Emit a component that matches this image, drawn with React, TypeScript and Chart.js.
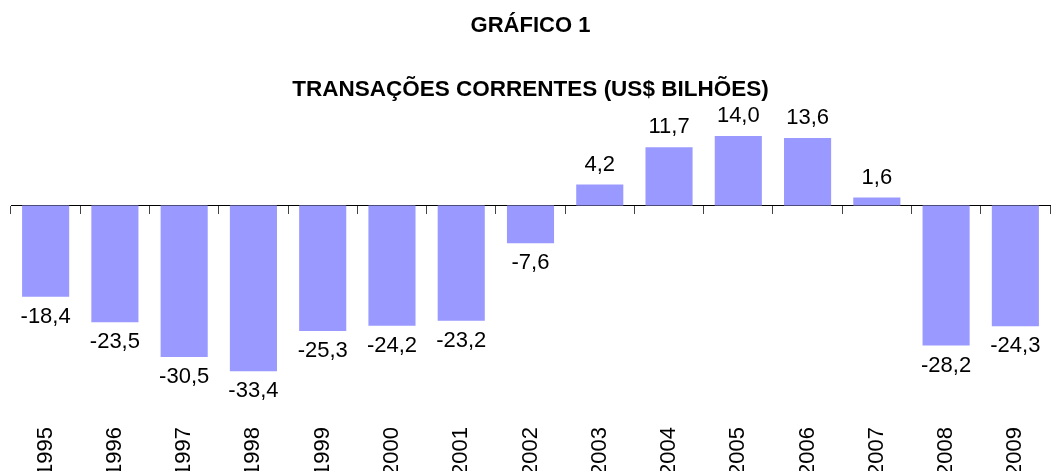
import React, { useEffect, useRef } from "react";
import { Chart, registerables } from "chart.js";

Chart.register(...registerables);

const years = ["1995", "1996", "1997", "1998", "1999", "2000", "2001", "2002", "2003", "2004", "2005", "2006", "2007", "2008", "2009"];
const values = [-18.4, -23.5, -30.5, -33.4, -25.3, -24.2, -23.2, -7.6, 4.2, 11.7, 14.0, 13.6, 1.6, -28.2, -24.3];
const titleText = "GRÁFICO 1";
const subtitleText = "TRANSAÇÕES CORRENTES (US$ BILHÕES)";

const FONT = "'Liberation Sans', Arial, sans-serif";

const labelPlugin = {
  id: "barValueLabels",
  afterDatasetsDraw(chart: any) {
    const ctx = chart.ctx;
    const meta = chart.getDatasetMeta(0);
    ctx.save();
    ctx.font = `22px ${FONT}`;
    ctx.fillStyle = "#000";
    ctx.textAlign = "center";
    ctx.textBaseline = "middle";
    meta.data.forEach((bar: any, i: number) => {
      const v = values[i];
      const txt = v.toFixed(1).replace(".", ",");
      const y = v >= 0 ? bar.y - 20 : bar.y + 20;
      ctx.fillText(txt, bar.x, y);
    });
    ctx.restore();
  },
};

export default function App() {
  const ref = useRef<HTMLCanvasElement>(null);

  useEffect(() => {
    document.body.style.margin = "0";
    const canvas = ref.current;
    if (!canvas) return;
    const chart = new Chart(canvas, {
      type: "bar",
      data: {
        labels: years,
        datasets: [
          {
            data: values,
            backgroundColor: "#9999FF",
            borderWidth: 0,
            barPercentage: 0.68,
            categoryPercentage: 1,
          },
        ],
      },
      options: {
        responsive: false,
        animation: false,
        layout: { padding: { left: 11, right: 8, top: 0, bottom: -8 } },
        plugins: {
          legend: { display: false },
          tooltip: { enabled: false },
          title: {
            display: true,
            text: titleText,
            color: "#000",
            font: { family: FONT, size: 22, weight: "bold" },
            padding: { top: 13, bottom: 37 },
          },
          subtitle: {
            display: true,
            text: subtitleText,
            color: "#000",
            font: { family: FONT, size: 22.5, weight: "bold" },
            padding: { top: 0, bottom: 3 },
          },
        },
        scales: {
          x: {
            type: "category",
            position: { y: 0 } as any,
            offset: true,
            grid: {
              offset: true,
              drawOnChartArea: false,
              drawTicks: true,
              tickLength: 8,
              color: "#444",
            },
            border: { display: true, color: "#000", width: 1 },
            ticks: { display: false },
          },
          x2: {
            type: "category",
            labels: years,
            position: "bottom",
            offset: true,
            grid: { display: false },
            border: { display: false },
            ticks: {
              autoSkip: false,
              maxRotation: 90,
              minRotation: 90,
              padding: 3,
              color: "#000",
              font: { family: FONT, size: 22 },
            },
          },
          y: {
            display: false,
            min: -42.4,
            max: 19.94,
          },
        },
      },
      plugins: [labelPlugin],
    });
    return () => chart.destroy();
  }, []);

  return <canvas ref={ref} width={1058} height={471} />;
}
